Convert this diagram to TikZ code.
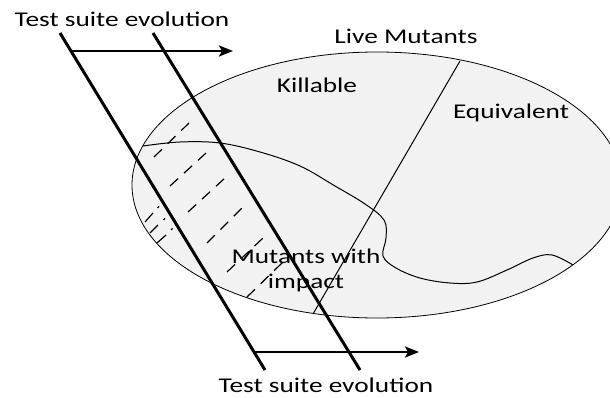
\documentclass[tikz,border=0pt]{standalone}
\usepackage{fontspec}
\usepackage{graphicx}
\setmainfont{Carlito}
\usetikzlibrary{arrows.meta}
\newcommand{\wlbl}[1]{\scalebox{1.3}[1]{#1}}
\begin{document}
\begin{tikzpicture}[x=1pt,y=-1pt,
  lbl/.style={anchor=base,inner sep=0pt,font=\fontsize{21}{25}\selectfont},
  thickline/.style={line width=3pt},
  evoarrow/.style={line width=2.4pt,-{Stealth[length=14pt,width=11pt,inset=3pt]}},
  thinline/.style={line width=1pt},
  dashline/.style={line width=1.2pt,dash pattern=on 11pt off 8pt}]
\useasboundingbox (0,0) rectangle (610,398);
\begin{scope}
\clip (0,0) rectangle (610,398);
\filldraw[fill=black!5,draw=black,line width=0.8pt] (377,185) ellipse [x radius=245, y radius=133];
\end{scope}
% inner region curve
\draw[thinline] plot[smooth,tension=0.6] coordinates {(143,146) (180,142) (220,143) (260,152) (300,166) (335,186) (365,204) (384,220) (386,238) (383,256) (396,268) (420,278) (450,283) (477,282) (507,270) (533,258) (552,255) (573,265)};
% divider
\coordinate (dtop) at (460,61);
\coordinate (dbot) at (313,314);
\draw[thinline] (dtop) -- (dbot);
% dashed lines
\draw[dashline] (154,157) -- (189,123);
\draw[dashline] (170,186) -- (206,153);
\draw[dashline] (188,212) -- (225,178);
\draw[dashline] (207,243) -- (243,207);
\draw[dashline] (227,272) -- (263,238);
\draw[dashline] (247,297) -- (283,262);
\draw[line width=1.2pt] (145,222) -- (153,213);
\draw[line width=1.2pt] (150,233) -- (158,225);
\draw[line width=1.2pt] (157,243) -- (166,235);
\draw[line width=1.2pt] (157.5,208) -- (159,206.5);
\draw[line width=1.2pt] (163.5,220) -- (165,218.5);
\draw[line width=1.2pt] (171,230) -- (172.5,228.5);
% thick boundary lines
\coordinate (la) at (60,33);
\coordinate (lb) at (265,370);
\coordinate (ra) at (153,33);
\coordinate (rb) at (360,370);
\draw[thickline] (la) -- (lb);
\draw[thickline] (ra) -- (rb);
% arrows
\coordinate (a1s) at (71,51);
\coordinate (a1e) at (233,51);
\coordinate (a2s) at (255,352);
\coordinate (a2e) at (419,352);
\draw[evoarrow] (a1s) -- (a1e);
\draw[evoarrow] (a2s) -- (a2e);
% labels
\node[lbl] (ttop) at (122,27) {\wlbl{Test suite evolution}};
\node[lbl] (tbot) at (326,392) {\wlbl{Test suite evolution}};
\node[lbl] (live) at (406,44) {\wlbl{Live Mutants}};
\node[lbl] (kill) at (317,93) {\wlbl{Killable}};
\node[lbl] (equi) at (511,119) {\wlbl{Equivalent}};
\node[lbl] (imp1) at (306,263) {\wlbl{Mutants with}};
\node[lbl] (imp2) at (306,288) {\wlbl{impact}};
\end{tikzpicture}
\end{document}
